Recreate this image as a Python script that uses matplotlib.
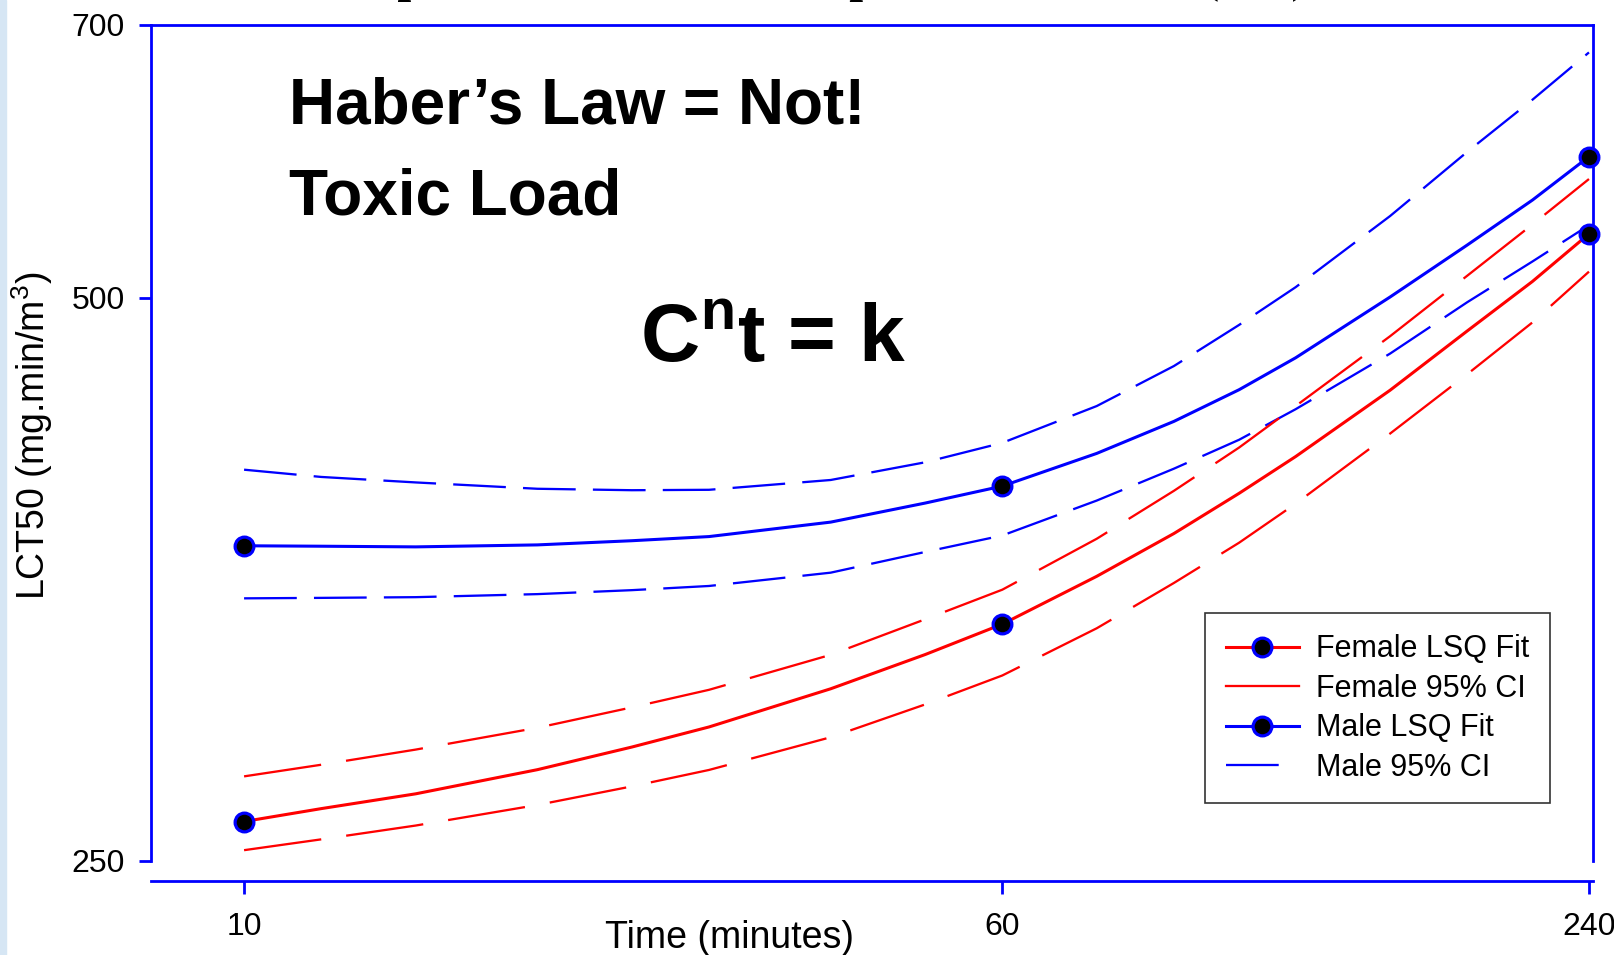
import matplotlib
matplotlib.use("Agg")
import matplotlib.pyplot as plt
from matplotlib.lines import Line2D
from matplotlib.patches import Rectangle
from matplotlib.ticker import NullLocator

# Data (minutes vs LCT50 in mg.min/m3)
times = [10, 12, 15, 20, 25, 30, 40, 50, 60, 75, 90, 105, 120, 150, 180, 210, 240]
male_fit = [368.4, 368.2, 367.9, 368.8, 370.7, 372.6, 379.3, 388.3, 396.5, 412.8, 429.4,
            446.5, 464.4, 500.5, 533.6, 564.0, 595.0]
male_upper = [404.6, 401.0, 398.3, 395.2, 394.5, 394.7, 399.5, 408.3, 418.2, 437.6, 459.7,
              483.6, 506.6, 553.0, 598.5, 638.2, 676.5]
male_lower = [345.3, 345.5, 345.8, 347.1, 348.8, 350.6, 356.4, 365.6, 373.1, 389.5, 405.1,
              419.8, 435.9, 466.8, 497.3, 522.9, 546.8]
female_fit = [262.3, 266.5, 271.4, 279.6, 287.5, 294.7, 308.9, 322.2, 334.5, 354.8, 374.0,
              393.0, 411.2, 446.2, 480.0, 510.2, 541.0]
female_upper = [277.3, 281.3, 286.6, 294.4, 301.9, 308.5, 322.1, 336.5, 349.0, 371.6, 394.2,
                415.8, 437.6, 476.9, 513.8, 547.3, 578.8]
female_lower = [253.2, 256.6, 261.0, 267.7, 273.9, 279.5, 291.0, 303.0, 314.0, 332.8, 351.9,
                369.8, 388.0, 423.0, 455.1, 485.1, 516.4]

obs_times = [10, 60, 240]
male_pts = [368.4, 396.5, 595.0]
female_pts = [262.3, 334.5, 541.0]

x_ticks = [10, 60, 240]
x_labels = ["10", "60", "240"]
y_ticks = [250, 500, 700]
y_labels = ["250", "500", "700"]

legend_labels = ["Female LSQ Fit", "Female 95% CI", "Male LSQ Fit", "Male 95% CI"]

plt.rcParams['font.family'] = ['Liberation Sans', 'DejaVu Sans']
plt.rcParams['mathtext.fontset'] = 'custom'
plt.rcParams['mathtext.rm'] = 'Liberation Sans'
plt.rcParams['mathtext.bf'] = 'Liberation Sans:bold'

fig = plt.figure(figsize=(16.14, 9.55), dpi=100)
fig.add_artist(Rectangle((0, 0), 6 / 1614, 1, transform=fig.transFigure,
                         color='#d6e6f4', zorder=-5))
ax = fig.add_axes([0.0936, 0.09895, 0.89339, 0.87519])

blue_dash = (23, 7.5)
red_dash = (34, 11)
mk = dict(marker='o', ms=13.5, mfc='black', mec='blue', mew=2.3)

ax.plot(times, male_upper, color='blue', lw=1.65, dashes=blue_dash)
ax.plot(times, male_lower, color='blue', lw=1.65, dashes=blue_dash)
ax.plot(times, female_upper, color='red', lw=1.65, dashes=red_dash)
ax.plot(times, female_lower, color='red', lw=1.65, dashes=red_dash)
ax.plot(times, female_fit, color='red', lw=2.2)
ax.plot(times, male_fit, color='blue', lw=2.2)
ax.plot(obs_times, female_pts, ls='none', zorder=5, clip_on=False, **mk)
ax.plot(obs_times, male_pts, ls='none', zorder=5, clip_on=False, **mk)

ax.set_xscale('log')
ax.set_yscale('log')
ax.set_xlim(8.027, 242.3)
ax.set_ylim(250, 700)
ax.set_xticks(x_ticks)
ax.set_xticklabels(x_labels)
ax.set_yticks(y_ticks)
ax.set_yticklabels(y_labels)
ax.xaxis.set_minor_locator(NullLocator())
ax.yaxis.set_minor_locator(NullLocator())

for s in ax.spines.values():
    s.set_color('blue')
    s.set_linewidth(2)
ax.spines['bottom'].set_position(('outward', 14.8))
ax.tick_params(axis='both', which='major', color='blue', width=2, length=9,
               labelsize=23, labelcolor='black', direction='out', pad=10)
ax.tick_params(axis='x', pad=13)

fig.text(0.4517, 0.0073, "Time (minutes)", fontsize=27, ha='center', va='baseline')
fig.text(0.0198, 0.5435, r"LCT50 (mg.min/m$^3$)", fontsize=27, rotation=90,
         ha='center', va='center')

fig.text(0.179, 0.8707, "Haber\u2019s Law = Not!", fontsize=46, fontweight='bold',
         va='baseline')
fig.text(0.179, 0.7759, "Toxic Load", fontsize=46, fontweight='bold', va='baseline')
fig.text(0.3965, 0.6209, r"C$^{\mathbf{n}}$t = k", fontsize=59, fontweight='bold',
         va='baseline')

# title sits above the slide edge, only its descenders show
fig.text(0.472, 1.0094, "Time Dependence of Sarin Vapor Lethal Dose (GB)",
         family='Liberation Serif', fontweight='bold', fontsize=36,
         ha='center', va='baseline')

handles = [
    Line2D([], [], color='red', lw=2.2, **mk),
    Line2D([], [], color='red', lw=1.65),
    Line2D([], [], color='blue', lw=2.2, **mk),
    Line2D([], [], color='blue', lw=1.65, dashes=(23, 30)),
]
leg = fig.legend(handles, legend_labels, loc='upper right', bbox_to_anchor=(0.9603, 0.3576),
                 bbox_transform=fig.transFigure, frameon=True, fancybox=False,
                 edgecolor='black', fontsize=22, handlelength=2.4, handletextpad=0.55,
                 labelspacing=0.31, borderpad=0.68, borderaxespad=0)
leg.get_frame().set_linewidth(1.2)

fig.savefig('out.png', dpi=100)
